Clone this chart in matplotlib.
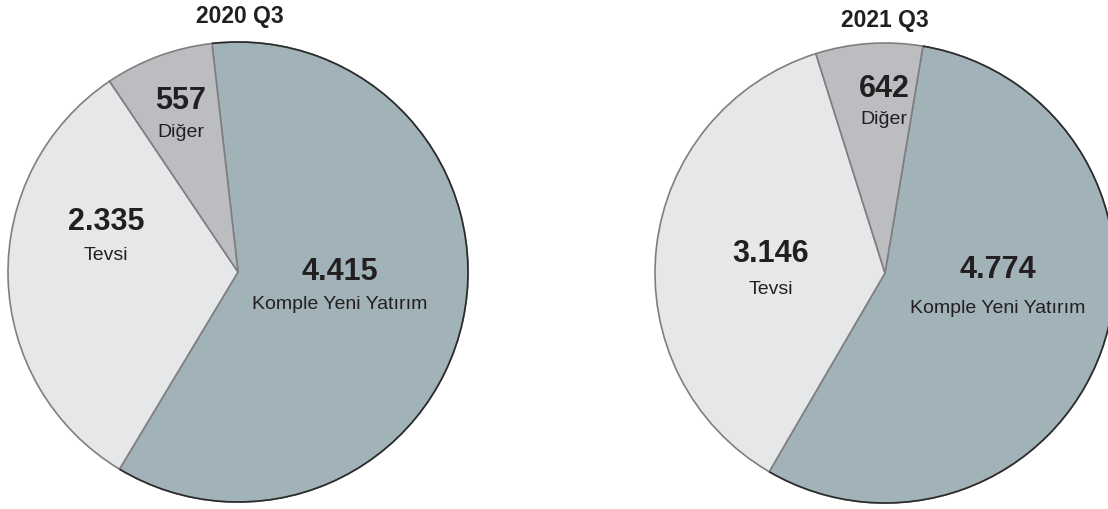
import matplotlib.pyplot as plt
from matplotlib.patches import Arc

plt.rcParams['font.family'] = ['Liberation Sans', 'DejaVu Sans']

# veriler
categories = ['Komple Yeni Yatırım', 'Tevsi', 'Diğer']
values_2020 = [4415, 2335, 557]
values_2021 = [4774, 3146, 642]
labels_2020 = ['4.415', '2.335', '557']
labels_2021 = ['4.774', '3.146', '642']
titles = ['2020 Q3', '2021 Q3']

colors = ['#a1b3b9', '#e6e7e9', '#bcbdc1']
text_color = '#231f20'

fig = plt.figure(figsize=(11.08, 5.10), dpi=100)
ax = fig.add_axes([0, 0, 1, 1])

# pasta merkezleri (piksel koordinatı)
pies = [
    (values_2020, labels_2020, titles[0], (238, -273), 96.5,
     [(340, 272, 305), (106, 222, 255), (181, 101, 133)], (240, 16)),
    (values_2021, labels_2021, titles[1], (885, -274), 80.5,
     [(998, 270, 309), (771, 254, 290), (884, 89, 120)], (885, 20)),
]

for vals, labs, title, center, start, pos, tpos in pies:
    wedges, _ = ax.pie(vals, colors=colors, startangle=start, counterclock=False,
                       center=center, radius=230,
                       wedgeprops=dict(edgecolor='#7f7f7f', linewidth=1.2))
    # Komple dilimin dış kenarı daha koyu
    w = wedges[0]
    ax.add_patch(Arc(w.center, 2 * w.r, 2 * w.r, theta1=w.theta1, theta2=w.theta2,
                     color='#2b2b2b', linewidth=1.2))
    for lab, cat, (x, y1, y2) in zip(labs, categories, pos):
        ax.text(x, -y1, lab, ha='center', va='center', fontsize=22,
                fontweight='bold', color=text_color)
        ax.text(x, -y2, cat, ha='center', va='center', fontsize=14,
                color=text_color)
    ax.text(tpos[0], -tpos[1], title, ha='center', va='center', fontsize=16.5,
            fontweight='bold', color=text_color)

ax.set_xlim(0, 1108)
ax.set_ylim(-510, 0)
ax.set_aspect('equal')
ax.axis('off')

plt.savefig('out.png', dpi=100)
